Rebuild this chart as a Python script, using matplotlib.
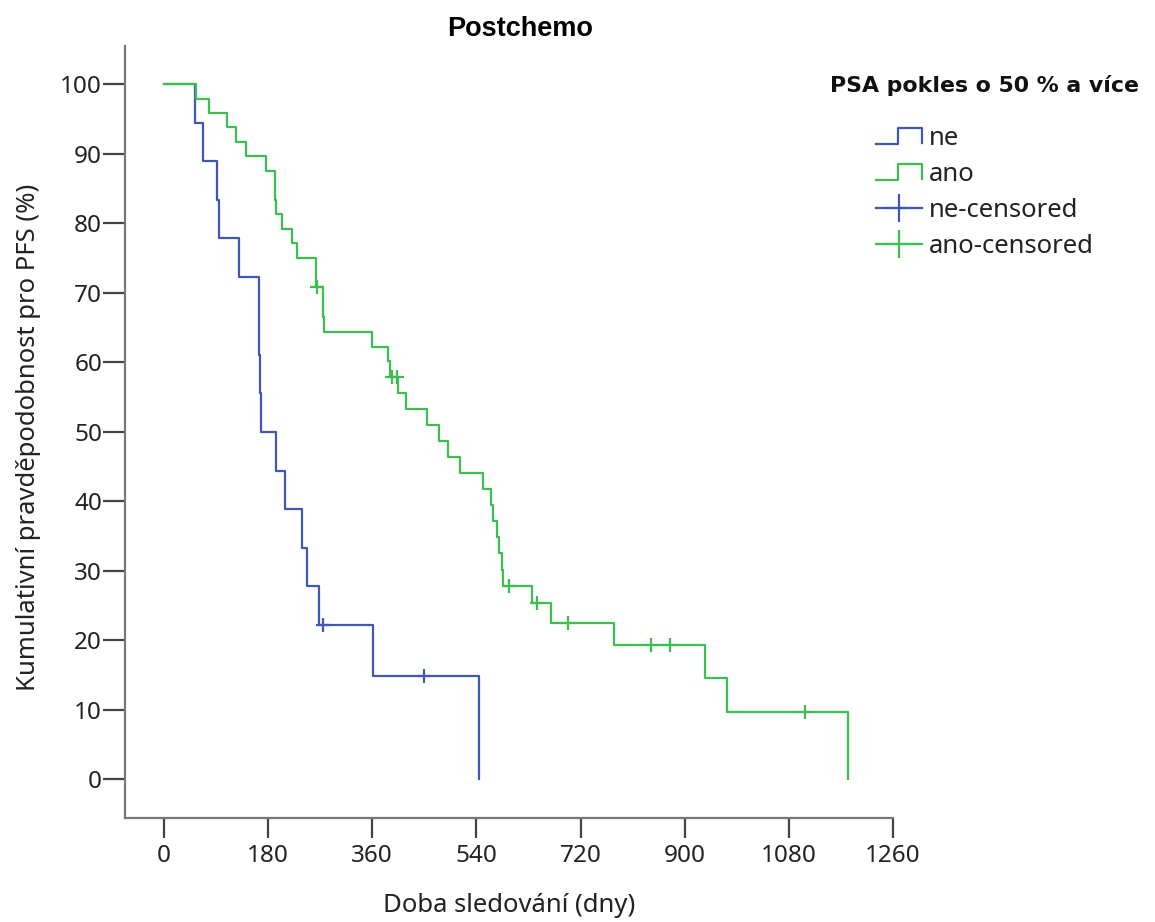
import matplotlib
matplotlib.use("Agg")
import matplotlib.pyplot as plt
from matplotlib.lines import Line2D
from matplotlib.legend_handler import HandlerBase

# Kaplan-Meier PFS curves (days, survival in %)
ne_event_days = [54, 67, 91, 95, 130, 164, 165, 166, 167, 194, 209, 238, 247, 268, 361, 544]
ne_event_surv = [94.4, 88.9, 83.3, 77.8, 72.2, 66.7, 61.1, 55.6, 50.0, 44.4,
                 38.9, 33.3, 27.8, 22.2, 14.8, 0.0]
ne_cens_days = [275, 449]
ne_cens_surv = [22.2, 14.8]

ano_event_days = [55, 78, 109, 124, 142, 176, 191, 192, 193, 204, 221, 230, 262, 263,
                  274, 275, 276, 359, 388, 390, 405, 418, 455, 475, 491, 512, 551,
                  565, 569, 576, 579, 584, 586, 636, 669, 778, 935, 973, 1182]
ano_event_surv = [97.9, 95.8, 93.8, 91.7, 89.6, 87.5, 85.4, 83.3, 81.3, 79.2, 77.1, 75.0,
                  72.9, 70.8, 68.7, 66.5, 64.4, 62.2, 60.1, 57.9, 55.6, 53.3, 51.0, 48.7,
                  46.4, 44.0, 41.7, 39.4, 37.1, 34.8, 32.5, 30.1, 27.8, 25.3, 22.5, 19.3,
                  14.5, 9.6, 0.0]
ano_cens_days = [264, 394, 403, 596, 645, 698, 842, 875, 1108]
ano_cens_surv = [70.8, 57.9, 57.9, 27.8, 25.3, 22.5, 19.3, 19.3, 9.6]

x_ticks = [0, 180, 360, 540, 720, 900, 1080, 1260]
y_ticks = [0, 10, 20, 30, 40, 50, 60, 70, 80, 90, 100]

group_labels = ["ne", "ano", "ne-censored", "ano-censored"]
BLUE = "#4057B5"
GREEN = "#3DBE50"

TXT = "Noto Sans"

fig = plt.figure(figsize=(11.55, 9.22), dpi=100)
ax = fig.add_axes([125 / 1155, 1 - 818 / 922, 768 / 1155, 772 / 922])

for days, surv, cdays, csurv, col in [
    (ne_event_days, ne_event_surv, ne_cens_days, ne_cens_surv, BLUE),
    (ano_event_days, ano_event_surv, ano_cens_days, ano_cens_surv, GREEN),
]:
    ax.step([0] + days, [100.0] + surv, where="post", color=col, lw=1.6)
    ax.plot(cdays, csurv, ls="none", marker="+", ms=10, mew=1.6, color=col)

ax.set_xlim(-67.4, 1260)
ax.set_ylim(-5.6, 105.5)
ax.set_xticks(x_ticks)
ax.set_yticks(y_ticks)
ax.set_xticklabels([str(v) for v in x_ticks], family=TXT, fontsize=17.5, color="#222222")
ax.set_yticklabels([str(v) for v in y_ticks], family=TXT, fontsize=17.5, color="#222222")
ax.tick_params(axis="x", length=14.5, width=1.6, color="#444444", pad=4)
ax.tick_params(axis="y", length=15.5, width=1.6, color="#444444", pad=1)

for side in ("top", "right"):
    ax.spines[side].set_visible(False)
for side in ("left", "bottom"):
    ax.spines[side].set_color("#777777")
    ax.spines[side].set_linewidth(1.6)

ax.set_xlabel("Doba sledování (dny)", family=TXT, fontsize=18.5, color="#222222")
ax.xaxis.set_label_coords(0.5, -0.097)
ax.set_ylabel("Kumulativní pravděpodobnost pro PFS (%)", family=TXT, fontsize=18.5,
              color="#222222")
ax.yaxis.set_label_coords(-0.109, 0.4935)

fig.text(520 / 1155, 1 - 29 / 922, "Postchemo", ha="center", va="center",
         family="Liberation Sans", weight="bold", fontsize=19.5)


class StepHandler(HandlerBase):
    def create_artists(self, legend, orig_handle, xdescent, ydescent, width,
                       height, fontsize, trans):
        x0, y0 = -xdescent, -ydescent
        xm = x0 + 0.47 * width
        xs = [x0, xm, xm, x0 + width, x0 + width]
        ys = [y0 + 0.05 * height, y0 + 0.05 * height, y0 + 0.95 * height,
              y0 + 0.95 * height, y0 + 0.1 * height]
        ln = Line2D(xs, ys, color=orig_handle.get_color(),
                    lw=orig_handle.get_linewidth(), transform=trans)
        return [ln]


h_ne = Line2D([], [], color=BLUE, lw=1.6)
h_ano = Line2D([], [], color=GREEN, lw=1.6)
h_ne_c = Line2D([], [], color=BLUE, lw=1.6, marker="+", ms=20, mew=1.6)
h_ano_c = Line2D([], [], color=GREEN, lw=1.6, marker="+", ms=20, mew=1.6)

fig.text(985 / 1155, 1 - 85 / 922, "PSA pokles o 50 % a více", ha="center", va="center",
         family="DejaVu Sans", weight="bold", fontsize=15.8, color="#111111")

fig.legend([h_ne, h_ano, h_ne_c, h_ano_c], group_labels,
           handler_map={h_ne: StepHandler(), h_ano: StepHandler()},
           loc="upper left", bbox_to_anchor=(876 / 1155, 1 - 126 / 922),
           bbox_transform=fig.transFigure, frameon=False, borderpad=0,
           borderaxespad=0, numpoints=1, handlelength=1.8, handletextpad=0.25,
           labelspacing=0.43, prop={"family": TXT, "size": 18.5},
           labelcolor="#222222")

fig.savefig("out.png", dpi=100, facecolor="white")
